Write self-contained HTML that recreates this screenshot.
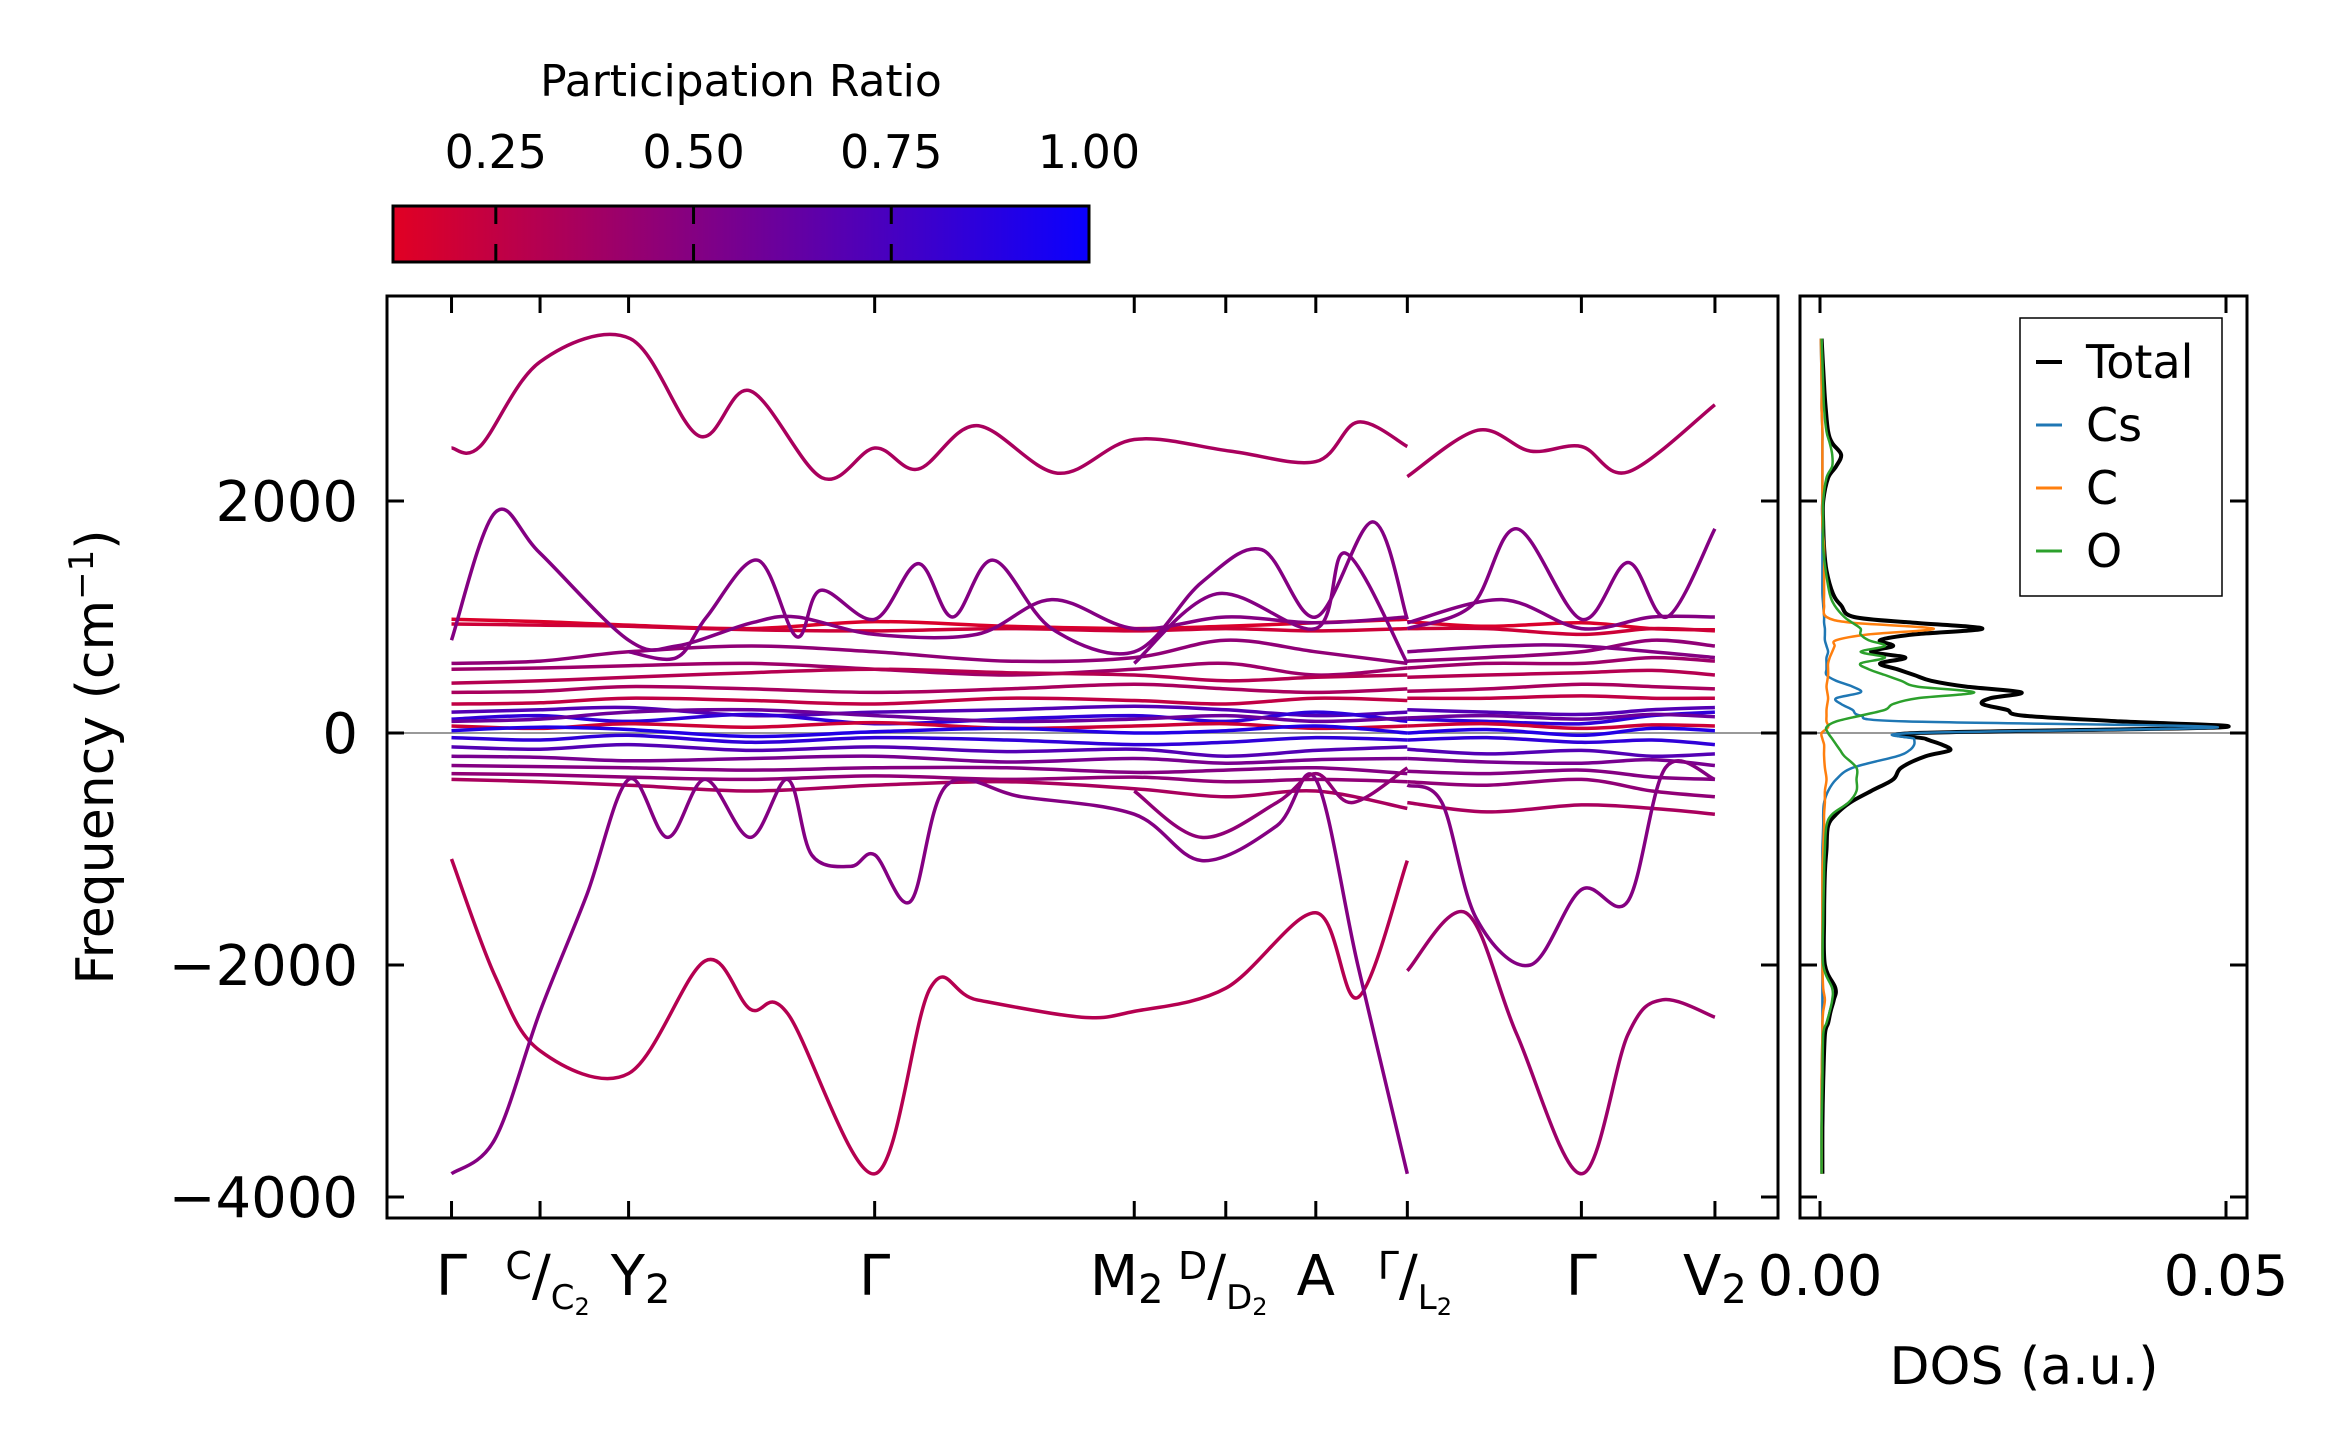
<!DOCTYPE html>
<html><head><meta charset="utf-8"><style>
html,body{margin:0;padding:0;background:#fff;}
svg{display:block;font-family:"DejaVu Sans","Liberation Sans",sans-serif;}
</style></head><body>
<svg id="fig" width="2352" height="1455" viewBox="0 0 2352 1455" xmlns="http://www.w3.org/2000/svg">
<defs>
<linearGradient id="cmap" x1="0" x2="1" y1="0" y2="0">
<stop offset="0" stop-color="rgb(225,0,35)"/>
<stop offset="1" stop-color="rgb(10,0,255)"/>
</linearGradient>
<clipPath id="mainclip"><rect x="387" y="296" width="1391" height="922"/></clipPath>
</defs>
<rect x="0" y="0" width="2352" height="1455" fill="#fff"/>
<g id="colorbar">
<text x="741" y="96" font-size="44" text-anchor="middle">Participation Ratio</text>
<rect x="393" y="206" width="696" height="56" fill="url(#cmap)" stroke="#000" stroke-width="3"/>
</g>
<g id="bands" clip-path="url(#mainclip)"></g>
<g id="dos"></g>
<g id="axes"></g>
<g id="legend">
<rect x="2020" y="318" width="202" height="278" fill="#fff" stroke="#000" stroke-width="1.5"/>
<line x1="2036" x2="2062" y1="362" y2="362" stroke="#000" stroke-width="4"/>
<text x="2086" y="378" font-size="46">Total</text>
<line x1="2036" x2="2062" y1="425" y2="425" stroke="#1f77b4" stroke-width="3"/>
<text x="2086" y="441" font-size="46">Cs</text>
<line x1="2036" x2="2062" y1="488" y2="488" stroke="#ff7f0e" stroke-width="3"/>
<text x="2086" y="504" font-size="46">C</text>
<line x1="2036" x2="2062" y1="551" y2="551" stroke="#2ca02c" stroke-width="3"/>
<text x="2086" y="567" font-size="46">O</text>
</g>
<text transform="translate(113,757) rotate(-90)" font-size="52" text-anchor="middle">Frequency (cm<tspan font-size="34" dy="-20">−1</tspan><tspan dy="20">)</tspan></text>
<text x="2024" y="1384" font-size="52" text-anchor="middle">DOS (a.u.)</text>
</svg>
<script>
// ---- data ----
const kTickPos = [0, 0.59, 1.18, 2.82, 4.55, 5.16, 5.76, 6.37, 7.53, 8.42];
const yTickVals = [2000, 0, -2000, -4000];
const yTickLabels = ["2000", "0", "−2000", "−4000"];
const cbarTicks = [0.25, 0.5, 0.75, 1.0];
const cbarTickLabels = ["0.25", "0.50", "0.75", "1.00"];
const dosTicks = [0, 0.05];
const dosTickLabels = ["0.00", "0.05"];
const seg1K = [0, 0.59, 1.18, 2.0, 2.82, 3.7, 4.55, 5.16, 5.76, 6.37];
const seg2K = [6.37, 6.9, 7.53, 8.0, 8.42];
const flatPR = [0.15,0.2,0.45,0.4,0.3,0.35,0.25,0.7,0.85,0.2,0.9,0.85,0.7,0.55,0.5,0.45,0.35,0.6];
const flatSeg1 = [
[980,960,930,900,960,920,900,920,950,980],
[940,930,920,890,880,900,880,900,880,900],
[600,620,700,750,700,620,650,800,700,600],
[550,560,580,600,550,500,550,600,500,560],
[430,450,480,520,550,520,500,450,480,500],
[350,360,400,380,350,380,420,380,350,380],
[250,260,300,280,250,300,280,250,300,280],
[180,200,220,150,180,200,230,200,150,180],
[120,150,100,160,80,120,150,100,180,100],
[60,40,80,50,90,40,60,80,40,60],
[20,50,30,-30,10,40,0,20,60,0],
[-40,-60,-20,-80,-40,-60,-100,-80,-40,-60],
[-120,-140,-100,-150,-120,-160,-140,-200,-150,-120],
[-200,-210,-240,-220,-200,-250,-220,-260,-230,-220],
[-280,-290,-300,-320,-300,-300,-340,-320,-300,-350],
[-350,-360,-380,-400,-370,-400,-380,-420,-400,-420],
[-400,-420,-450,-500,-450,-420,-480,-550,-500,-650],
[100,120,180,200,150,100,120,150,100,130]];
const flatSeg2 = [
[960,920,950,900,890],[900,900,850,900,880],[620,650,700,800,750],[560,600,600,650,620],
[480,500,520,540,500],[360,380,420,400,380],[300,300,320,300,300],[200,180,160,200,220],
[120,100,80,150,180],[60,80,40,70,60],[0,30,-20,40,20],[-60,-40,-80,-60,-100],
[-140,-180,-150,-200,-180],[-220,-250,-260,-230,-280],[-330,-350,-320,-380,-400],
[-420,-450,-400,-500,-550],[-600,-680,-620,-650,-700],[130,150,120,160,140]];
const topBandPR = 0.35;
const topBand1 = [[0,2457],[0.19,2470],[0.59,3200],[1.19,3400],[1.65,2560],[1.99,2950],[2.47,2200],[2.82,2457],[3.11,2275],[3.5,2650],[4.04,2240],[4.55,2530],[5.19,2430],[5.76,2340],[6.04,2680],[6.37,2470]];
const topBand2 = [[6.37,2210],[6.84,2610],[7.19,2430],[7.53,2470],[7.84,2250],[8.42,2830]];
const midPR = [0.5, 0.5, 0.5];
const midBands1 = [
[[0,800],[0.29,1900],[0.59,1550],[1.18,800],[1.5,750],[2.0,950],[2.3,1000],[2.82,850],[3.5,850],[4.0,1150],[4.55,900],[5.16,1000],[5.76,950],[6.37,1000]],
[[1.18,700],[1.5,650],[1.7,1000],[2.04,1490],[2.3,830],[2.46,1230],[2.82,980],[3.11,1460],[3.34,1000],[3.61,1490],[4.0,900],[4.55,700],[5.0,1300],[5.4,1580],[5.76,1000],[6.14,1820],[6.37,980]],
[[4.55,600],[5.1,1200],[5.76,900],[5.96,1550],[6.37,600]]];
const midBands2 = [
[[6.37,900],[6.8,1100],[7.1,1760],[7.53,980],[7.84,1470],[8.1,1000],[8.42,1760]],
[[6.37,950],[7.0,1150],[7.53,900],[8.0,1000],[8.42,1000]],
[[6.37,700],[7.0,750],[7.53,750],[8.42,650]]];
const negPR = [0.3, 0.5, 0.45, 0.4, 0.5];
const negBands = [
[[0,-1086],[0.29,-2095],[0.59,-2740],[1.18,-2935],[1.69,-1965],[1.99,-2380],[2.24,-2418],[2.82,-3800],[3.19,-2200],[3.5,-2300],[4.2,-2450],[4.55,-2400],[5.16,-2200],[5.76,-1550],[6.04,-2280],[6.37,-1100]],
[[0,-3800],[0.29,-3500],[0.59,-2400],[0.9,-1400],[1.18,-400],[1.44,-900],[1.69,-400],[1.99,-900],[2.24,-400],[2.4,-1050],[2.66,-1150],[2.82,-1050],[3.06,-1450],[3.3,-450],[3.8,-550],[4.55,-700],[5.0,-1100],[5.5,-800],[5.76,-400],[6.04,-2000],[6.37,-3800]],
[[4.55,-500],[5.0,-900],[5.5,-600],[5.76,-350],[6.0,-600],[6.37,-300]],
[[6.37,-2050],[6.76,-1550],[7.1,-2600],[7.53,-3800],[7.84,-2600],[8.07,-2300],[8.42,-2450]],
[[6.37,-450],[6.6,-600],[6.83,-1600],[7.19,-2000],[7.53,-1350],[7.84,-1450],[8.09,-300],[8.42,-400]]];
const dosFreq = [-3800,-3400,-3000,-2600,-2500,-2400,-2300,-2200,-2000,-1600,-1200,-1000,-800,-700,-600,-500,-400,-300,-200,-150,-100,-50,0,50,100,150,200,250,300,350,400,450,500,550,600,650,700,750,800,850,900,950,1000,1100,1200,1400,1600,1800,2000,2200,2300,2400,2500,2600,2800,3000,3400];
const dosTotal = [0.0003,0.0003,0.0004,0.0006,0.0010,0.0013,0.0017,0.0019,0.0006,0.0005,0.0006,0.0008,0.001,0.002,0.0037,0.0063,0.009,0.010,0.013,0.016,0.015,0.013,0.012,0.0495,0.037,0.025,0.023,0.020,0.021,0.0248,0.018,0.0137,0.0116,0.0095,0.0074,0.0105,0.0063,0.009,0.0074,0.0116,0.020,0.0116,0.0042,0.0026,0.0016,0.0008,0.0005,0.0004,0.0004,0.001,0.002,0.0026,0.0015,0.001,0.0007,0.0005,0.0002];
const dosCs = [0.0002,0.0002,0.0002,0.0003,0.0003,0.0003,0.0003,0.0003,0.0003,0.0003,0.0003,0.0003,0.0004,0.0004,0.0005,0.001,0.002,0.004,0.0095,0.011,0.0116,0.0116,0.0116,0.049,0.0105,0.005,0.004,0.0026,0.002,0.005,0.004,0.002,0.0008,0.0008,0.0008,0.0008,0.001,0.0008,0.0006,0.0006,0.0006,0.0005,0.0005,0.0004,0.0003,0.0003,0.0003,0.0003,0.0003,0.0003,0.0003,0.0003,0.0003,0.0003,0.0002,0.0002,0.0001];
const dosC = [0.0002,0.0002,0.0002,0.0003,0.0003,0.0004,0.0006,0.0004,0.0003,0.0003,0.0003,0.0004,0.0005,0.0005,0.0006,0.0006,0.0008,0.0006,0.0005,0.0005,0.0005,0.0003,0.0002,0.001,0.0008,0.0008,0.0008,0.0009,0.001,0.0009,0.0008,0.0009,0.001,0.001,0.001,0.0012,0.0015,0.0018,0.002,0.006,0.014,0.004,0.0008,0.0005,0.0005,0.0005,0.0005,0.0003,0.0003,0.0003,0.0003,0.0003,0.0003,0.0003,0.0002,0.0002,0.0001];
const dosO = [0.0002,0.0002,0.0003,0.0004,0.0008,0.0012,0.0015,0.0015,0.0004,0.0004,0.0005,0.0006,0.0008,0.0015,0.0035,0.0045,0.0045,0.0045,0.003,0.0025,0.002,0.0015,0.001,0.0008,0.002,0.005,0.008,0.009,0.012,0.019,0.012,0.010,0.008,0.006,0.005,0.008,0.005,0.008,0.006,0.005,0.005,0.004,0.003,0.0018,0.0012,0.0007,0.0004,0.0004,0.0004,0.0008,0.0015,0.0015,0.0012,0.0008,0.0005,0.0004,0.0002];

// ---- scales ----
const NS = "http://www.w3.org/2000/svg";
function X(k){ return 387 + (k + 0.43) * 150.05; }
function Y(f){ return 733 - f * 0.116; }
function DX(v){ return 1820 + v * 8120; }
function CB(p){ return 393 + (p - 0.12) / 0.88 * 696; }
function prColor(p){
  const t = Math.max(0, Math.min(1, (p - 0.12) / 0.88));
  const r = Math.round(225 + (10 - 225) * t), b = Math.round(35 + (255 - 35) * t);
  return "rgb(" + r + ",0," + b + ")";
}
function smoothPath(pts){
  let d = "M" + pts[0][0].toFixed(1) + "," + pts[0][1].toFixed(1);
  for (let i = 0; i < pts.length - 1; i++){
    const p0 = pts[Math.max(0, i - 1)], p1 = pts[i], p2 = pts[i + 1], p3 = pts[Math.min(pts.length - 1, i + 2)];
    const c1x = p1[0] + (p2[0] - p0[0]) / 6, c1y = p1[1] + (p2[1] - p0[1]) / 6;
    const c2x = p2[0] - (p3[0] - p1[0]) / 6, c2y = p2[1] - (p3[1] - p1[1]) / 6;
    d += "C" + c1x.toFixed(1) + "," + c1y.toFixed(1) + " " + c2x.toFixed(1) + "," + c2y.toFixed(1) + " " + p2[0].toFixed(1) + "," + p2[1].toFixed(1);
  }
  return d;
}
function addPath(parent, pts, color, w, name){
  const p = document.createElementNS(NS, "path");
  p.setAttribute("d", smoothPath(pts));
  p.setAttribute("fill", "none");
  p.setAttribute("stroke", color);
  p.setAttribute("stroke-width", w);
  p.setAttribute("stroke-linejoin", "round");
  
  
  parent.appendChild(p);
}
function addLine(parent, x1, y1, x2, y2, color, w, name){
  const l = document.createElementNS(NS, "line");
  l.setAttribute("x1", x1); l.setAttribute("y1", y1); l.setAttribute("x2", x2); l.setAttribute("y2", y2);
  l.setAttribute("stroke", color); l.setAttribute("stroke-width", w);
  
  
  parent.appendChild(l);
}
function addText(parent, x, y, str, size, anchor, name){
  const t = document.createElementNS(NS, "text");
  t.setAttribute("x", x); t.setAttribute("y", y);
  t.setAttribute("font-size", size); t.setAttribute("text-anchor", anchor);
  t.textContent = str;
  
  
  parent.appendChild(t);
  return t;
}

// ---- bands ----
const bg = document.getElementById("bands");
addLine(bg, 387, Y(0), 1778, Y(0), "#999", 2, "zero-line");
flatSeg1.forEach((vals, i) => {
  addPath(bg, vals.map((f, j) => [X(seg1K[j]), Y(f)]), prColor(flatPR[i]), 3.5, "band-flat-seg1");
});
flatSeg2.forEach((vals, i) => {
  addPath(bg, vals.map((f, j) => [X(seg2K[j]), Y(f)]), prColor(flatPR[i]), 3.5, "band-flat-seg2");
});
midBands1.forEach((b, i) => addPath(bg, b.map(p => [X(p[0]), Y(p[1])]), prColor(midPR[i]), 3.5, "band-mid-seg1"));
midBands2.forEach((b, i) => addPath(bg, b.map(p => [X(p[0]), Y(p[1])]), prColor(midPR[i]), 3.5, "band-mid-seg2"));
negBands.forEach((b, i) => addPath(bg, b.map(p => [X(p[0]), Y(p[1])]), prColor(negPR[i]), 3.5, "band-optical-low"));
addPath(bg, topBand1.map(p => [X(p[0]), Y(p[1])]), prColor(topBandPR), 3.5, "band-top-seg1");
addPath(bg, topBand2.map(p => [X(p[0]), Y(p[1])]), prColor(topBandPR), 3.5, "band-top-seg2");

// ---- DOS ----
const dg = document.getElementById("dos");
addLine(dg, 1800, Y(0), 2247, Y(0), "#999", 2, "dos-zero-line");
addPath(dg, dosFreq.map((f, i) => [DX(dosTotal[i]), Y(f)]), "#000", 4, "dos-total-line");
addPath(dg, dosFreq.map((f, i) => [DX(dosCs[i]), Y(f)]), "#1f77b4", 2.5, "dos-cs-line");
addPath(dg, dosFreq.map((f, i) => [DX(dosC[i]), Y(f)]), "#ff7f0e", 2.5, "dos-c-line");
addPath(dg, dosFreq.map((f, i) => [DX(dosO[i]), Y(f)]), "#2ca02c", 2.5, "dos-o-line");

// ---- axes ----
const ag = document.getElementById("axes");
function frame(x, y, w, h, name){
  const r = document.createElementNS(NS, "rect");
  r.setAttribute("x", x); r.setAttribute("y", y); r.setAttribute("width", w); r.setAttribute("height", h);
  r.setAttribute("fill", "none"); r.setAttribute("stroke", "#000"); r.setAttribute("stroke-width", 3);
  
  
  ag.appendChild(r);
}
frame(387, 296, 1391, 922, "band-axes-frame");
frame(1800, 296, 447, 922, "dos-axes-frame");
kTickPos.forEach(k => {
  addLine(ag, X(k), 296, X(k), 313, "#000", 3, "x-tick-top");
  addLine(ag, X(k), 1218, X(k), 1201, "#000", 3, "x-tick-bottom");
});
yTickVals.forEach((v, i) => {
  addLine(ag, 387, Y(v), 404, Y(v), "#000", 3, "y-tick");
  addLine(ag, 1778, Y(v), 1761, Y(v), "#000", 3, "y-tick-right");
  addLine(ag, 1800, Y(v), 1817, Y(v), "#000", 3, "dos-y-tick");
  addLine(ag, 2247, Y(v), 2230, Y(v), "#000", 3, "dos-y-tick-right");
  addText(ag, 358, Y(v) + 20, yTickLabels[i], 56, "end", "y-tick-label");
});
dosTicks.forEach((v, i) => {
  addLine(ag, DX(v), 296, DX(v), 313, "#000", 3, "dos-x-tick-top");
  addLine(ag, DX(v), 1218, DX(v), 1201, "#000", 3, "dos-x-tick-bottom");
  addText(ag, DX(v), 1295, dosTickLabels[i], 56, "middle", "dos-x-tick-label");
});
function kLabel(k, html, name){
  const t = document.createElementNS(NS, "text");
  t.setAttribute("x", X(k)); t.setAttribute("y", 1295);
  t.setAttribute("font-size", 56); t.setAttribute("text-anchor", "middle");
  t.innerHTML = html;
  
  
  ag.appendChild(t);
}
const sub = s => '<tspan font-size="40" dy="8">' + s + '</tspan>';
const frac = (a, b) => '<tspan font-size="38" dy="-16">' + a + '</tspan><tspan dy="16">/</tspan><tspan font-size="34" dy="14">' + b + '</tspan><tspan font-size="24" dy="6">2</tspan>';
kLabel(kTickPos[0], "Γ", "k-label-gamma");
kLabel(kTickPos[1] + 0.05, frac("C", "C"), "k-label-c-c2");
kLabel(kTickPos[2] + 0.08, "Y" + sub("2"), "k-label-y2");
kLabel(kTickPos[3], "Γ", "k-label-gamma-2");
kLabel(kTickPos[4] - 0.05, "M" + sub("2"), "k-label-m2");
kLabel(kTickPos[5] - 0.02, frac("D", "D"), "k-label-d-d2");
kLabel(kTickPos[6], "A", "k-label-a");
kLabel(kTickPos[7] + 0.05, frac("Γ", "L"), "k-label-gamma-l2");
kLabel(kTickPos[8], "Γ", "k-label-gamma-3");
kLabel(kTickPos[9], "V" + sub("2"), "k-label-v2");

// ---- colorbar ticks ----
const cg = document.getElementById("colorbar");
cbarTicks.forEach((p, i) => {
  if (p < 1) {
    addLine(cg, CB(p), 206, CB(p), 224, "#000", 3, "colorbar-tick-top");
    addLine(cg, CB(p), 262, CB(p), 244, "#000", 3, "colorbar-tick-bottom");
  }
  addText(cg, CB(p), 168, cbarTickLabels[i], 46, "middle", "colorbar-tick-label");
});
</script>
</body></html>
